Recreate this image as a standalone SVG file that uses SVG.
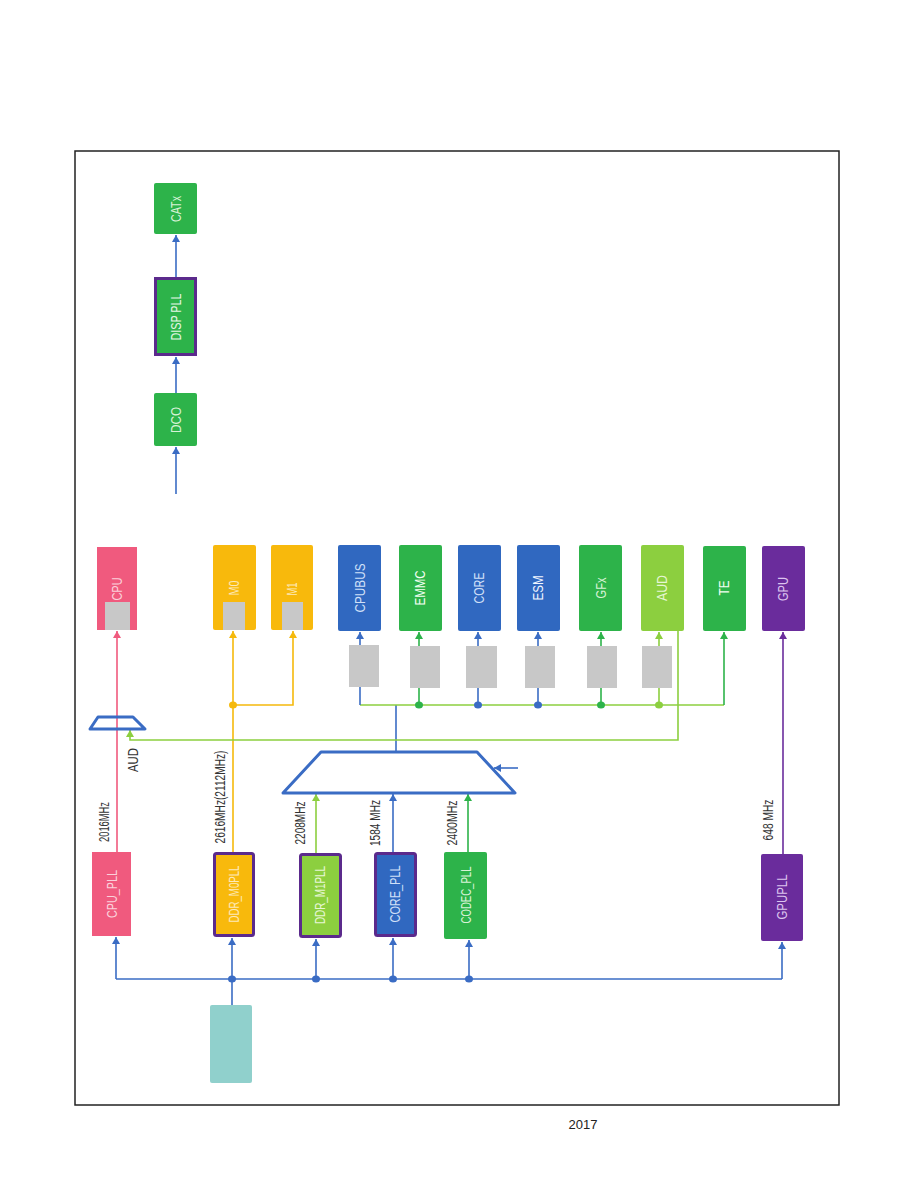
<svg xmlns="http://www.w3.org/2000/svg" width="914" height="1191" viewBox="0 0 914 1191">
<style>
.lbl{font-family:"Liberation Sans",Arial,sans-serif;font-size:14px;text-anchor:middle;dominant-baseline:central}
.frq{font-family:"Liberation Sans",Arial,sans-serif;font-size:14px;fill:#333;text-anchor:middle;dominant-baseline:central}
.ln{fill:none;stroke-width:1.6}
.b{stroke:#3a6cc4}.p{stroke:#f05a7e}.y{stroke:#f5b90c}.g{stroke:#2db34a}.lg{stroke:#8ccf3f}.pu{stroke:#6a2c9c}
.gray{fill:#c8c8c8}
</style>
<defs>
<marker id="ab" markerUnits="userSpaceOnUse" markerWidth="9" markerHeight="9" refX="7" refY="4" orient="auto"><path d="M0,0 L7,4 L0,8 z" fill="#3a6cc4"/></marker>
<marker id="ap" markerUnits="userSpaceOnUse" markerWidth="9" markerHeight="9" refX="7" refY="4" orient="auto"><path d="M0,0 L7,4 L0,8 z" fill="#f05a7e"/></marker>
<marker id="ay" markerUnits="userSpaceOnUse" markerWidth="9" markerHeight="9" refX="7" refY="4" orient="auto"><path d="M0,0 L7,4 L0,8 z" fill="#f5b90c"/></marker>
<marker id="ag" markerUnits="userSpaceOnUse" markerWidth="9" markerHeight="9" refX="7" refY="4" orient="auto"><path d="M0,0 L7,4 L0,8 z" fill="#2db34a"/></marker>
<marker id="alg" markerUnits="userSpaceOnUse" markerWidth="9" markerHeight="9" refX="7" refY="4" orient="auto"><path d="M0,0 L7,4 L0,8 z" fill="#8ccf3f"/></marker>
<marker id="apu" markerUnits="userSpaceOnUse" markerWidth="9" markerHeight="9" refX="7" refY="4" orient="auto"><path d="M0,0 L7,4 L0,8 z" fill="#6a2c9c"/></marker>
</defs>
<rect width="914" height="1191" fill="#fff"/>
<rect x="75" y="151" width="764" height="954" fill="none" stroke="#222" stroke-width="1.5"/>
<text x="583" y="1124" font-family="Liberation Sans,Arial,sans-serif" font-size="13" fill="#222" text-anchor="middle" dominant-baseline="central">2017</text>

<g id="connectors">
<path class="ln b" d="M176,494 V447" marker-end="url(#ab)"/>
<path class="ln b" d="M176,393 V357" marker-end="url(#ab)"/>
<path class="ln b" d="M176,277 V235" marker-end="url(#ab)"/>
<path class="ln b" d="M116,979 H782"/>
<path class="ln b" d="M232,979 V1005"/>
<path class="ln b" d="M116,979 V937" marker-end="url(#ab)"/>
<path class="ln b" d="M232,979 V938" marker-end="url(#ab)"/>
<path class="ln b" d="M316,979 V939" marker-end="url(#ab)"/>
<path class="ln b" d="M393,979 V938" marker-end="url(#ab)"/>
<path class="ln b" d="M469,979 V940" marker-end="url(#ab)"/>
<path class="ln b" d="M782,979 V942" marker-end="url(#ab)"/>
<g fill="#3a6cc4"><ellipse cx="232" cy="979" rx="4" ry="3.5"/><ellipse cx="316" cy="979" rx="4" ry="3.5"/><ellipse cx="393" cy="979" rx="4" ry="3.5"/><ellipse cx="469" cy="979" rx="4" ry="3.5"/></g>
<path class="ln p" d="M117,852 V631" marker-end="url(#ap)"/>
<path class="ln y" d="M233,852 V631" marker-end="url(#ay)"/>
<path class="ln y" d="M233,705 H293 V631" marker-end="url(#ay)"/>
<ellipse cx="233" cy="705" rx="4" ry="3.5" fill="#f5b90c"/>
<path class="ln lg" d="M316,853 V794" marker-end="url(#alg)"/>
<path class="ln b" d="M393,852 V794" marker-end="url(#ab)"/>
<path class="ln g" d="M468,852 V794" marker-end="url(#ag)"/>
<path class="ln pu" d="M783,854 V632" marker-end="url(#apu)"/>
<path class="ln b" d="M518,768 H494" marker-end="url(#ab)"/>
<path class="ln b" d="M396,752 V705"/>
<path class="ln lg" d="M360,705 H724"/>
<path class="ln g" d="M724,705 V632" marker-end="url(#ag)"/>
<path class="ln b" d="M360,705 V632" marker-end="url(#ab)"/>
<path class="ln g" d="M419,705 V632" marker-end="url(#ag)"/>
<path class="ln b" d="M478,705 V632" marker-end="url(#ab)"/>
<path class="ln b" d="M538,705 V632" marker-end="url(#ab)"/>
<path class="ln g" d="M601,705 V632" marker-end="url(#ag)"/>
<path class="ln lg" d="M659,705 V632" marker-end="url(#alg)"/>
<ellipse cx="419" cy="705" rx="4" ry="3.5" fill="#2db34a"/>
<ellipse cx="478" cy="705" rx="4" ry="3.5" fill="#3a6cc4"/>
<ellipse cx="538" cy="705" rx="4" ry="3.5" fill="#3a6cc4"/>
<ellipse cx="601" cy="705" rx="4" ry="3.5" fill="#2db34a"/>
<ellipse cx="659" cy="705" rx="4" ry="3.5" fill="#8ccf3f"/>
<path class="ln lg" d="M678,631 V740 H130 V730" marker-end="url(#alg)"/>
</g>

<g id="mux-cpu"><path d="M98,717 H133 L145,729 H90 Z" fill="none" stroke="#3a6cc4" stroke-width="3" stroke-linejoin="round"/></g>
<g id="mux-bus"><path d="M321,752 H477 L515,793 H283 Z" fill="none" stroke="#3a6cc4" stroke-width="3" stroke-linejoin="round"/></g>

<g id="gray-blocks" class="gray">
<rect x="349" y="645" width="30" height="42"/>
<rect x="410" y="646" width="30" height="42"/>
<rect x="466" y="646" width="31" height="42"/>
<rect x="525" y="646" width="30" height="42"/>
<rect x="587" y="646" width="30" height="42"/>
<rect x="642" y="646" width="30" height="42"/>
</g>

<g id="CATx"><rect x="154" y="183" width="43" height="51" rx="2" fill="#2db34a"/><text class="lbl" fill="#d6f2d6" textLength="26" lengthAdjust="spacingAndGlyphs" transform="translate(176,209) rotate(-90)">CATx</text></g>
<g id="DISPPLL"><rect x="155.5" y="278.5" width="40" height="76" fill="#2db34a" stroke="#5b2a8c" stroke-width="3"/><text class="lbl" fill="#e4f6e4" textLength="47" lengthAdjust="spacingAndGlyphs" transform="translate(176,317) rotate(-90)">DISP PLL</text></g>
<g id="DCO"><rect x="154" y="393" width="43" height="53" rx="2" fill="#2db34a"/><text class="lbl" fill="#d6f2d6" textLength="26" lengthAdjust="spacingAndGlyphs" transform="translate(176,420) rotate(-90)">DCO</text></g>

<g id="CPU"><rect x="97" y="547" width="40" height="83" fill="#f05a7e"/><rect class="gray" x="105" y="602" width="25" height="28"/><text class="lbl" fill="#fbd0da" textLength="23" lengthAdjust="spacingAndGlyphs" transform="translate(117,589) rotate(-90)">CPU</text></g>
<g id="M0"><rect x="213" y="545" width="43" height="85" rx="2" fill="#f8b90c"/><rect class="gray" x="223" y="602" width="22" height="28"/><text class="lbl" fill="#fde9b8" textLength="15" lengthAdjust="spacingAndGlyphs" transform="translate(234,588) rotate(-90)">M0</text></g>
<g id="M1"><rect x="271" y="545" width="42" height="85" rx="2" fill="#f8b90c"/><rect class="gray" x="282" y="602" width="21" height="28"/><text class="lbl" fill="#fde9b8" textLength="13" lengthAdjust="spacingAndGlyphs" transform="translate(292,589) rotate(-90)">M1</text></g>
<g id="CPUBUS"><rect x="338" y="545" width="43" height="86" rx="2" fill="#3068c0"/><text class="lbl" fill="#d0e0f8" textLength="49" lengthAdjust="spacingAndGlyphs" transform="translate(360,588) rotate(-90)">CPUBUS</text></g>
<g id="EMMC"><rect x="399" y="545" width="43" height="86" rx="2" fill="#2db34a"/><text class="lbl" fill="#f2fff2" textLength="35" lengthAdjust="spacingAndGlyphs" transform="translate(420,588) rotate(-90)">EMMC</text></g>
<g id="CORE"><rect x="458" y="545" width="43" height="86" rx="2" fill="#3068c0"/><text class="lbl" fill="#d0e0f8" textLength="31" lengthAdjust="spacingAndGlyphs" transform="translate(479,588) rotate(-90)">CORE</text></g>
<g id="ESM"><rect x="517" y="545" width="43" height="86" rx="2" fill="#3068c0"/><text class="lbl" fill="#f0f6ff" textLength="25" lengthAdjust="spacingAndGlyphs" transform="translate(538,588) rotate(-90)">ESM</text></g>
<g id="GFx"><rect x="579" y="545" width="43" height="86" rx="2" fill="#2db34a"/><text class="lbl" fill="#d6f2d6" textLength="21" lengthAdjust="spacingAndGlyphs" transform="translate(601,588) rotate(-90)">GFx</text></g>
<g id="AUD"><rect x="641" y="545" width="43" height="86" rx="2" fill="#8ccf3f"/><text class="lbl" fill="#e6f6d4" textLength="26" lengthAdjust="spacingAndGlyphs" transform="translate(662,588) rotate(-90)">AUD</text></g>
<g id="TE"><rect x="703" y="546" width="43" height="85" rx="2" fill="#2db34a"/><text class="lbl" fill="#f2fff2" textLength="15" lengthAdjust="spacingAndGlyphs" transform="translate(724,588) rotate(-90)">TE</text></g>
<g id="GPU"><rect x="762" y="546" width="43" height="85" rx="2" fill="#6a2c9c"/><text class="lbl" fill="#dcc4ee" textLength="24" lengthAdjust="spacingAndGlyphs" transform="translate(783,589) rotate(-90)">GPU</text></g>

<g id="CPU_PLL"><rect x="92" y="852" width="39" height="84" fill="#f05a7e"/><text class="lbl" fill="#fbd0da" textLength="48" lengthAdjust="spacingAndGlyphs" transform="translate(112,894) rotate(-90)">CPU_PLL</text></g>
<g id="DDR_M0PLL"><rect x="214.5" y="853.5" width="39" height="82" rx="2" fill="#f8b90c" stroke="#5b2a8c" stroke-width="3"/><text class="lbl" fill="#fde9b8" textLength="57" lengthAdjust="spacingAndGlyphs" transform="translate(234,894) rotate(-90)">DDR_M0PLL</text></g>
<g id="DDR_M1PLL"><rect x="300.5" y="854.5" width="40" height="82" rx="2" fill="#8ccf3f" stroke="#5b2a8c" stroke-width="3"/><text class="lbl" fill="#e6f6d4" textLength="58" lengthAdjust="spacingAndGlyphs" transform="translate(320,895) rotate(-90)">DDR_M1PLL</text></g>
<g id="CORE_PLL"><rect x="375.5" y="853.5" width="40" height="82" rx="2" fill="#3068c0" stroke="#5b2a8c" stroke-width="3"/><text class="lbl" fill="#d0e0f8" textLength="57" lengthAdjust="spacingAndGlyphs" transform="translate(395,894) rotate(-90)">CORE_PLL</text></g>
<g id="CODEC_PLL"><rect x="444" y="852" width="43" height="87" rx="2" fill="#2db34a"/><text class="lbl" fill="#d6f2d6" textLength="57" lengthAdjust="spacingAndGlyphs" transform="translate(466,895) rotate(-90)">CODEC_PLL</text></g>
<g id="GPUPLL"><rect x="761" y="854" width="42" height="87" rx="2" fill="#6a2c9c"/><text class="lbl" fill="#dcc4ee" textLength="45" lengthAdjust="spacingAndGlyphs" transform="translate(782,897) rotate(-90)">GPUPLL</text></g>
<g id="source"><rect x="210" y="1005" width="42" height="78" rx="2" fill="#90d0cc"/></g>

<g id="freq-labels">
<text class="frq" textLength="40" lengthAdjust="spacingAndGlyphs" transform="translate(104,822) rotate(-90)">2016MHz</text>
<text class="frq" textLength="93" lengthAdjust="spacingAndGlyphs" transform="translate(220,797) rotate(-90)">2616MHz(2112MHz)</text>
<text class="frq" textLength="43" lengthAdjust="spacingAndGlyphs" transform="translate(300,823) rotate(-90)">2208MHz</text>
<text class="frq" textLength="46" lengthAdjust="spacingAndGlyphs" transform="translate(375,823) rotate(-90)">1584 MHz</text>
<text class="frq" textLength="45" lengthAdjust="spacingAndGlyphs" transform="translate(452,823) rotate(-90)">2400MHz</text>
<text class="frq" textLength="41" lengthAdjust="spacingAndGlyphs" transform="translate(768,820) rotate(-90)">648 MHz</text>
<text class="frq" fill="#555" textLength="24" lengthAdjust="spacingAndGlyphs" transform="translate(133,760) rotate(-90)">AUD</text>
</g>
</svg>
